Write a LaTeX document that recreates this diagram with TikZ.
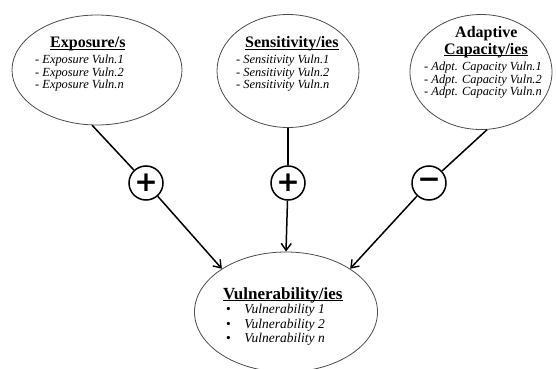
\documentclass[tikz,border=0pt]{standalone}
\usepackage{fontspec}
\setmainfont{Liberation Serif}
\newfontfamily\symfont{DejaVu Sans}
\usetikzlibrary{shapes.geometric,arrows.meta}
\newcommand\ttl[2][16]{\setbox0\hbox{\fontsize{#1}{#1}\selectfont\bfseries #2}\rlap{\rule[-1.9pt]{\wd0}{1pt}}\box0}
\newcommand\plainttl[1]{{\fontsize{16}{16}\selectfont\bfseries #1}}
\tikzset{
  bubble/.style={ellipse, draw=black!70, line width=0.8pt, fill=white, inner sep=0pt},
  sign/.style={circle, draw=black, line width=1.5pt, fill=white, minimum size=34pt, inner sep=0pt,
    font=\symfont\bfseries\fontsize{28}{28}\selectfont},
  link/.style={line width=1.5pt, draw=black},
  arr/.style={link, -{Straight Barb[length=7pt,width=10pt,line width=1.4pt]}},
  block/.style={inner sep=0pt, anchor=base west, font=\fontsize{12.4}{12.5}\selectfont},
  vblock/.style={inner sep=0pt, anchor=base west, font=\fontsize{13.5}{14.5}\selectfont},
}
\begin{document}
\begin{tikzpicture}[x=1pt,y=-1pt]
\useasboundingbox (0,0) rectangle (557,369);
% ellipses
\node[bubble, minimum width=170pt, minimum height=110pt] (exp) at (97,70) {};
\node[bubble, minimum width=142pt, minimum height=113pt] (sen) at (288,71) {};
\node[bubble, minimum width=142pt, minimum height=115pt] (ada) at (481,72) {};
\node[bubble, minimum width=183pt, minimum height=120pt] (vul) at (286,312) {};
% texts
\node[block] (expt) at (35,48) {\begin{tabular}[t]{@{}l@{}}\hspace*{15pt}\ttl{Exposure/s}\\[3.5pt]
  \itshape - Exposure Vuln.1\\ \itshape - Exposure Vuln.2\\ \itshape - Exposure Vuln.n\end{tabular}};
\node[block] (sent) at (236,48) {\begin{tabular}[t]{@{}l@{}}\hspace*{9pt}\ttl{Sensitivity/ies}\\[3.5pt]
  \itshape - Sensitivity Vuln.1\\ \itshape - Sensitivity Vuln.2\\ \itshape - Sensitivity Vuln.n\end{tabular}};
\node[block] (adat) at (424,38) {\begin{tabular}[t]{@{}l@{}}\hspace*{31pt}\plainttl{Adaptive}\\[1.5pt]
  \hspace*{20pt}\ttl{Capacity/ies}\\[4pt]
  \itshape - Adpt. Capacity Vuln.1\\ \itshape - Adpt. Capacity Vuln.2\\ \itshape - Adpt. Capacity Vuln.n\end{tabular}};
\node[vblock] (vult) at (223,299) {\begin{tabular}[t]{@{\hspace{3pt}}l@{\hspace{13.5pt}}l@{}}\multicolumn{2}{@{}l@{}}{\ttl[17]{Vulnerability/ies}}\\
  \textbullet & \itshape Vulnerability 1\\ \textbullet & \itshape Vulnerability 2\\ \textbullet & \itshape Vulnerability n\end{tabular}};
% signs
\node[sign] (c1) at (146,183) {+};
\node[sign] (c2) at (288,183) {+};
\node[sign] (c3) at (429,183) {−};
% connectors
\draw[link] (exp.265) -- (c1);
\draw[arr] (c1) -- (vul.146);
\draw[link] (sen.south) -- (c2);
\draw[arr] (c2) -- (vul.north);
\draw[link] (ada.276) -- (c3);
\draw[arr] (c3) -- (vul.34);
\end{tikzpicture}
\end{document}
